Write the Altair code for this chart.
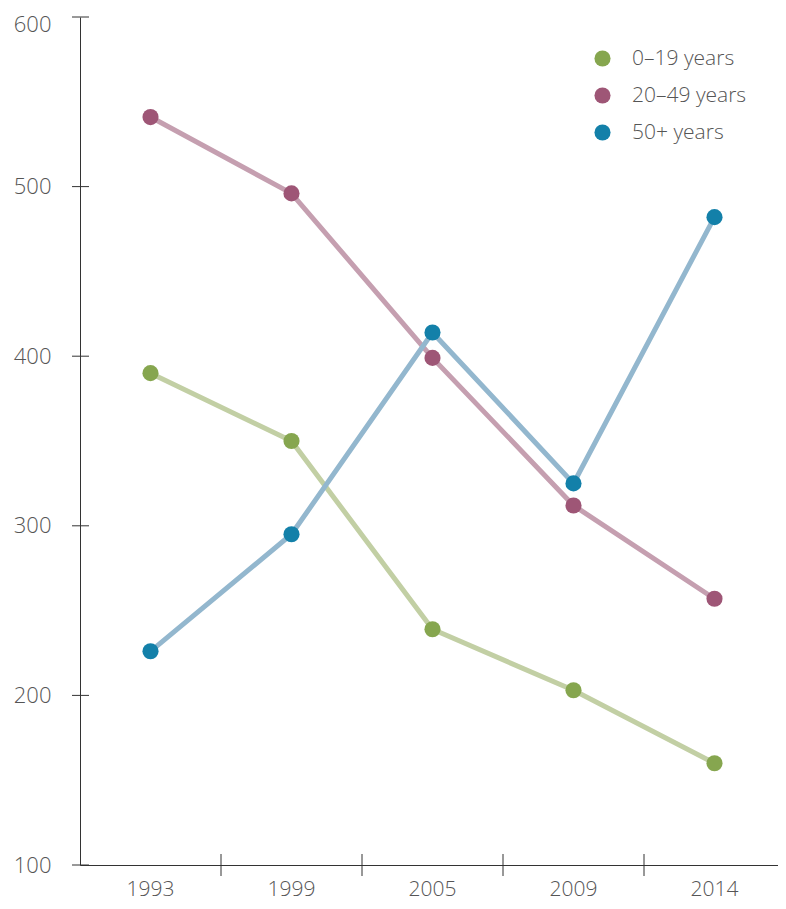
import altair as alt
import pandas as pd

years = ["1993", "1999", "2005", "2009", "2014"]
series = ["0–19 years", "20–49 years", "50+ years"]
v_0_19 = [390, 350, 239, 203, 160]
v_20_49 = [541, 496, 399, 312, 257]
v_50 = [226, 295, 414, 325, 482]
y_ticks = [100, 200, 300, 400, 500, 600]

point_colors = ["#86a64f", "#9e5676", "#1380a9"]
line_colors = ["#c2cfa4", "#c59fb0", "#93b7ce"]

rows = []
for s, vals in zip(series, [v_0_19, v_20_49, v_50]):
    for y, v in zip(years, vals):
        rows.append({"year": y, "group": s, "value": v})
df = pd.DataFrame(rows)
xt = pd.DataFrame({"year": years[1:]})
yt = pd.DataFrame({"value": y_ticks})

W, H = 698, 848
FONT = "Open Sans"
TXT = "#555555"
AX = "#333333"

xscale = alt.Scale(domain=years, range=[0, 705], paddingInner=0, paddingOuter=0)
yscale = alt.Scale(domain=[100, 600], nice=False, zero=False)

x_enc = alt.X(
    "year:N", sort=years, scale=xscale,
    axis=alt.Axis(
        title=None, labelAngle=0, ticks=False, domainColor=AX, grid=False,
        labelFontSize=21, labelColor=TXT, labelFont=FONT, labelFontWeight=300,
        labelPadding=13,
    ),
)
y_enc = alt.Y(
    "value:Q", scale=yscale,
    axis=alt.Axis(
        title=None, values=y_ticks, ticks=False, domainColor=AX, grid=False,
        labelFontSize=22, labelColor=TXT, labelFont=FONT, labelFontWeight=300,
        labelPadding=29,
        labelOffset=alt.condition("datum.value == 600", alt.value(7), alt.value(0)),
    ),
)

lines = alt.Chart(df).mark_line(strokeWidth=5).encode(
    x=x_enc, y=y_enc,
    color=alt.Color("group:N", sort=series,
                    scale=alt.Scale(domain=series, range=line_colors), legend=None),
)

points = alt.Chart(df).mark_circle(size=260, opacity=1).encode(
    x=x_enc, y=y_enc,
    color=alt.Color(
        "group:N", sort=series,
        scale=alt.Scale(domain=series, range=point_colors),
        legend=alt.Legend(
            title=None, orient="none", legendX=512, legendY=31,
            symbolType="circle", symbolSize=260, symbolStrokeWidth=0,
            labelFontSize=21, labelColor=TXT, labelFont=FONT, labelFontWeight=300,
            rowPadding=15, labelOffset=19,
        ),
    ),
)

xticks = alt.Chart(xt).mark_rule(color=AX, strokeWidth=1).encode(
    x=alt.X("year:N", sort=years, scale=xscale, bandPosition=0),
    y=alt.value(H - 11), y2=alt.value(H + 11),
)
yticks = alt.Chart(yt).mark_rule(color=AX, strokeWidth=1).encode(
    y=alt.Y("value:Q", scale=yscale),
    x=alt.value(-8), x2=alt.value(9),
)

chart = alt.layer(lines, points, xticks, yticks).resolve_scale(
    color="independent"
).properties(
    width=W, height=H,
    padding={"left": 72, "top": 9, "right": 0, "bottom": 36},
    autosize=alt.AutoSizeParams(type="none"),
).configure_view(stroke=None)

chart.save("out.html", embed_options={"renderer": "svg", "actions": False})
